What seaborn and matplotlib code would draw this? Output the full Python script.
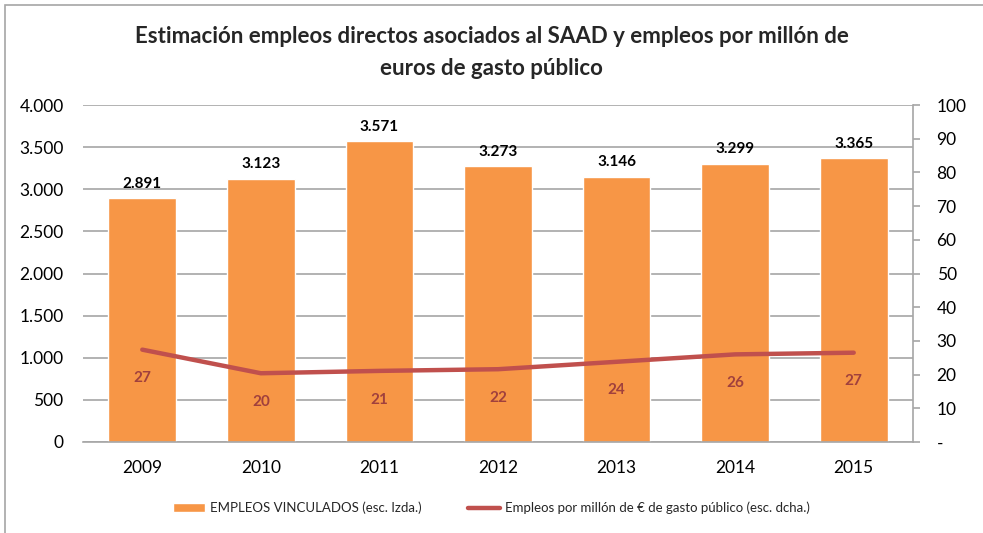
import matplotlib
matplotlib.use('Agg')
import matplotlib.pyplot as plt
import seaborn as sns
import pandas as pd
from matplotlib.ticker import FuncFormatter, MultipleLocator
from matplotlib.patches import Rectangle

# datos
years = ['2009', '2010', '2011', '2012', '2013', '2014', '2015']
empleos = [2891, 3123, 3571, 3273, 3146, 3299, 3365]
por_millon = [27.4, 20.4, 21.1, 21.6, 23.8, 26.0, 26.5]
por_millon_lbl = ['27', '20', '21', '22', '24', '26', '27']

title = 'Estimación empleos directos asociados al SAAD y empleos por millón de\neuros de gasto público'
lbl_bar = 'EMPLEOS VINCULADOS (esc. Izda.)'
lbl_line = 'Empleos por millón de € de gasto público (esc. dcha.)'

sns.set_theme(style='white')
plt.rcParams['font.family'] = ['Lato', 'DejaVu Sans']

BAR = '#F79646'
LINE = '#C0504D'
LBL = '#A0403D'
GRID = '#A6A6A6'

df = pd.DataFrame({'year': years, 'empleos': empleos, 'ratio': por_millon})

fig = plt.figure(figsize=(9.83, 5.33), dpi=100)
ax = fig.add_axes([83 / 983, 1 - 442 / 533, (913 - 83) / 983, (442 - 105) / 533])

sns.barplot(data=df, x='year', y='empleos', color=BAR, width=0.57, ax=ax,
            saturation=1, label=lbl_bar)
ax.set_ylim(0, 4000)
ax.yaxis.set_major_locator(MultipleLocator(500))
ax.yaxis.set_major_formatter(FuncFormatter(lambda v, p: f'{int(v):,}'.replace(',', '.')))
ax.grid(axis='y', color=GRID, linewidth=1.2)
ax.set_axisbelow(True)
ax.set_xlabel('')
ax.set_ylabel('')
for s in ['left', 'top', 'right']:
    ax.spines[s].set_visible(False)
ax.spines['bottom'].set_color(GRID)
ax.spines['bottom'].set_linewidth(1.2)
ax.tick_params(axis='y', labelsize=12.5, colors='black', length=0, pad=14)
ax.tick_params(axis='x', labelsize=12.5, colors='black', length=0, pad=13)

for i, v in enumerate(empleos):
    ax.text(i, v + 90, f'{v:,}'.replace(',', '.'), ha='center', va='bottom',
            fontsize=11, fontweight='bold', color='black')

ax2 = ax.twinx()
sns.lineplot(x=list(range(len(years))), y=por_millon, color=LINE, linewidth=3.2,
             ax=ax2, label=lbl_line)
ax2.set_ylim(0, 100)
ax2.yaxis.set_major_locator(MultipleLocator(10))
ax2.yaxis.set_major_formatter(FuncFormatter(lambda v, p: '-' if v == 0 else f'{int(v)}'))
ax2.tick_params(axis='y', labelsize=12.5, colors='black', length=5, width=1.2, pad=12)
ax2.tick_params(axis='y', color=GRID)
for s in ['left', 'top', 'bottom']:
    ax2.spines[s].set_visible(False)
ax2.spines['right'].set_color(GRID)
ax2.spines['right'].set_linewidth(1.2)
ax2.set_ylabel('')
ax2.get_legend().remove()

for i, (v, t) in enumerate(zip(por_millon, por_millon_lbl)):
    ax2.text(i, v - 8.5, t, ha='center', va='center', fontsize=11,
             fontweight='bold', color=LBL)

ax.set_xlim(-0.5, len(years) - 0.5)

fig.suptitle(title, y=1 - 26 / 533, va='top', fontsize=16, fontweight='bold',
             linespacing=1.65)

h1, l1 = ax.get_legend_handles_labels()
h2, l2 = ax2.get_legend_handles_labels()
if ax.get_legend():
    ax.get_legend().remove()
fig.legend(h1 + h2, l1 + l2, loc='center', bbox_to_anchor=(0.5, 1 - 508 / 533),
           ncol=2, frameon=False, fontsize=9.5, columnspacing=3.5, handlelength=2.4,
           handletextpad=0.4)

fig.patches.append(Rectangle((5 / 983, -0.1), 1.2, 1 - 5 / 533 + 0.1,
                             transform=fig.transFigure, fill=False,
                             edgecolor='#A6A6A6', linewidth=1.2))

fig.savefig('out.png', dpi=100)
